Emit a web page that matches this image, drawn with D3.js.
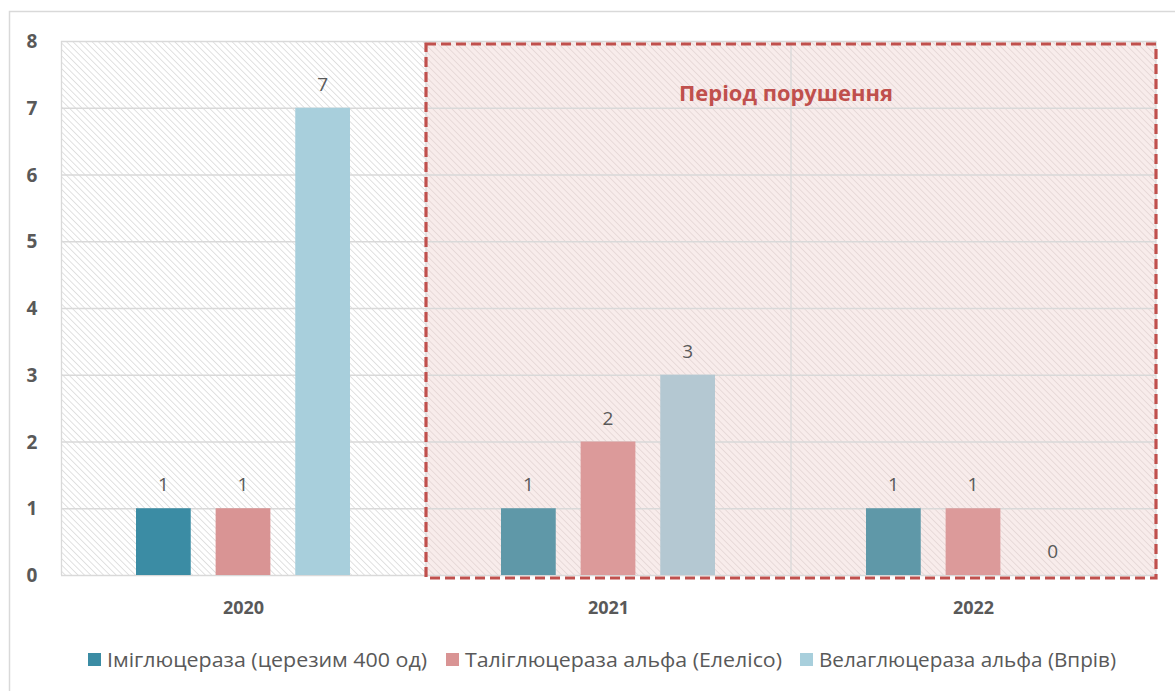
<!DOCTYPE html>
<html><head><meta charset="utf-8">
<script src="https://cdn.jsdelivr.net/npm/d3@7"></script>
<style>body{margin:0;background:#fff;} svg{display:block;font-family:"Open Sans","DejaVu Sans",sans-serif;}</style>
</head><body>
<svg id="c" width="1175" height="691"></svg>
<script>
const categories = ["2020", "2021", "2022"];
const seriesNames = ["Іміглюцераза (церезим 400 од)", "Таліглюцераза альфа (Елелісо)", "Велаглюцераза альфа (Впрів)"];
const imiglucerase = [1, 1, 1];
const taliglucerase = [1, 2, 1];
const velaglucerase = [7, 3, 0];
const yTicks = [0, 1, 2, 3, 4, 5, 6, 7, 8];
const highlightCats = ["2021", "2022"];
const highlightLabel = "Період порушення";

const seriesValues = [imiglucerase, taliglucerase, velaglucerase];
const colors = ["#3b8ca4", "#d99494", "#a8cfdc"];
const colorsHL = ["#5f98a8", "#dc9a9a", "#b4c8d2"];

const svg = d3.select("#c");
const L = 61, R = 1156, T = 41, B = 575;

// outer frame
svg.append("rect").attr("x", 9.5).attr("y", 11.5).attr("width", 1180).attr("height", 700)
  .attr("fill", "#fff").attr("stroke", "#d9d9d9").attr("stroke-width", 1.5);

const defs = svg.append("defs");
const pat = defs.append("pattern").attr("id", "hatch").attr("patternUnits", "userSpaceOnUse")
  .attr("width", 4.5).attr("height", 4.5).attr("patternTransform", "rotate(45)");
pat.append("rect").attr("width", 4.5).attr("height", 4.5).attr("fill", "#ffffff");
pat.append("line").attr("x1", 0).attr("y1", 0).attr("x2", 4.5).attr("y2", 0)
  .attr("stroke", "#dadada").attr("stroke-width", 1.6);
const pat2 = defs.append("pattern").attr("id", "hatch2").attr("patternUnits", "userSpaceOnUse")
  .attr("width", 4.5).attr("height", 4.5).attr("patternTransform", "rotate(45)");
pat2.append("rect").attr("width", 4.5).attr("height", 4.5).attr("fill", "#f8eceb");
pat2.append("line").attr("x1", 0).attr("y1", 0).attr("x2", 4.5).attr("y2", 0)
  .attr("stroke", "#e4d6d5").attr("stroke-width", 1.6);

const x = d3.scaleBand().domain(categories).range([L, R]);
const y = d3.scaleLinear().domain([0, 8]).range([B, T]);
const xs = d3.scaleBand().domain(d3.range(seriesNames.length)).range([75, 289]).paddingInner(0.3125);

// plot background
svg.append("rect").attr("x", L).attr("y", T).attr("width", R - L).attr("height", B - T)
  .attr("fill", "url(#hatch)");

const hx0 = x(highlightCats[0]), hx1 = x(highlightCats[highlightCats.length - 1]) + x.bandwidth();
svg.append("rect").attr("x", hx0).attr("y", T).attr("width", hx1 - hx0).attr("height", B - T)
  .attr("fill", "url(#hatch2)");

// gridlines
svg.append("g").selectAll("line").data(yTicks).join("line")
  .attr("x1", L).attr("x2", R).attr("y1", d => y(d) + 0.5).attr("y2", d => y(d) + 0.5)
  .attr("stroke", "#d9d9d9").attr("stroke-width", 1.3);
svg.append("g").selectAll("line").data(categories.slice(1).concat(["end"])).join("line")
  .attr("x1", d => d === "end" ? R : x(d)).attr("x2", d => d === "end" ? R : x(d))
  .attr("y1", T).attr("y2", B).attr("stroke", "#d9d9d9").attr("stroke-width", 1.3);
svg.append("line").attr("x1", L + 0.5).attr("x2", L + 0.5).attr("y1", T).attr("y2", B)
  .attr("stroke", "#d9d9d9").attr("stroke-width", 1.3);

// bars
categories.forEach((cat, ci) => {
  const hl = highlightCats.includes(cat);
  seriesValues.forEach((vals, si) => {
    const v = vals[ci];
    const bx = x(cat) + xs(si);
    if (v > 0) {
      svg.append("rect").attr("x", bx).attr("y", y(v)).attr("width", xs.bandwidth())
        .attr("height", y(0) - y(v)).attr("fill", hl ? colorsHL[si] : colors[si]);
    }
    svg.append("text").attr("x", bx + xs.bandwidth() / 2).attr("y", y(v) - 17)
      .attr("text-anchor", "middle").attr("font-size", 19).attr("fill", "#595959").text(v);
  });
});

// highlight dashed box
svg.append("rect").attr("x", hx0).attr("y", T + 3).attr("width", hx1 - hx0).attr("height", B - T)
  .attr("fill", "none").attr("stroke", "#c0504d").attr("stroke-width", 3.2)
  .attr("stroke-dasharray", "10,5");
svg.append("text").attr("x", (hx0 + hx1) / 2 - 5).attr("y", 101).attr("text-anchor", "middle")
  .attr("font-size", 21).attr("font-weight", "bold").attr("fill", "#c0504d")
  .attr("textLength", 214).attr("lengthAdjust", "spacingAndGlyphs").text(highlightLabel);

// y axis labels
svg.append("g").selectAll("text").data(yTicks).join("text")
  .attr("x", 32).attr("y", d => y(d) + 7).attr("text-anchor", "middle")
  .attr("font-size", 19).attr("font-weight", "bold").attr("fill", "#595959").text(d => d);

// x axis labels
svg.append("g").selectAll("text").data(categories).join("text")
  .attr("x", d => x(d) + x.bandwidth() / 2).attr("y", 614).attr("text-anchor", "middle")
  .attr("font-size", 18).attr("font-weight", "bold").attr("fill", "#595959").text(d => d);

// legend
const legX = [88, 446, 800];
const legW = [320, 317, 297];
seriesNames.forEach((n, i) => {
  svg.append("rect").attr("x", legX[i]).attr("y", 653).attr("width", 13).attr("height", 13).attr("fill", colors[i]);
  svg.append("text").attr("x", legX[i] + 19).attr("y", 667).attr("font-size", 20).attr("fill", "#595959")
    .attr("textLength", legW[i]).attr("lengthAdjust", "spacingAndGlyphs").text(n);
});
</script>
</body></html>
